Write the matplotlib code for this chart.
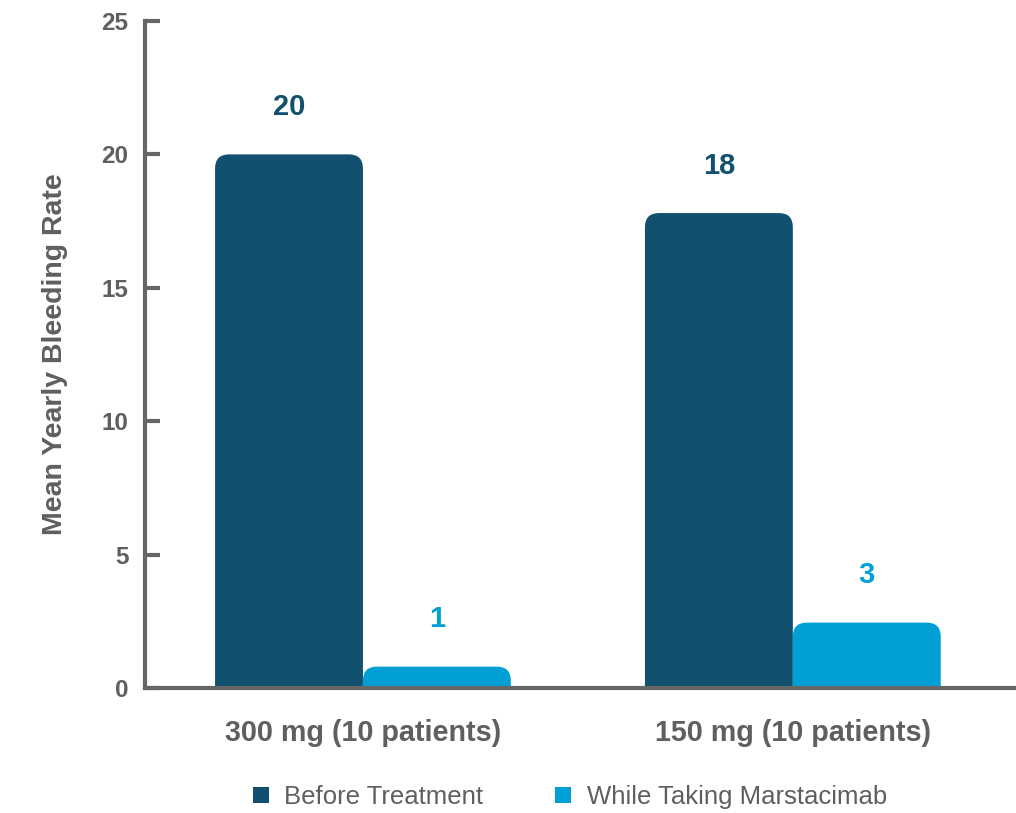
import matplotlib
matplotlib.use("Agg")
import matplotlib.pyplot as plt
from matplotlib.patches import FancyBboxPatch, Patch

plt.rcParams['font.family'] = ['Liberation Sans', 'DejaVu Sans']

groups = ['300 mg (10 patients)', '150 mg (10 patients)']
series_names = ['Before Treatment', 'While Taking Marstacimab']
before = [20, 17.8]
during = [0.8, 2.45]
before_labels = ['20', '18']
during_labels = ['1', '3']

DARK = '#12506f'
LIGHT = '#00a0d6'
GREY = '#5f5f5f'
AXIS = '#666666'

fig = plt.figure(figsize=(10.16, 8.13), dpi=100)
ax = fig.add_axes([0.1427, 0.1538, 0.856, 0.8204])

x = [0, 1]
w = 0.344
bars_a = ax.bar([i - w / 2 for i in x], before, w, color=DARK)
bars_b = ax.bar([i + w / 2 for i in x], during, w, color=LIGHT)

ax.set_xlim(-0.507, 1.516)
ax.set_ylim(0, 25)

# swap the plain bars for ones with rounded top corners
fig.canvas.draw()
p0 = ax.transData.transform((0, 0))
p1 = ax.transData.transform((1, 1))
px_x = p1[0] - p0[0]
px_y = p1[1] - p0[1]
r = 14 / px_x
for b in list(bars_a) + list(bars_b):
    b.set_visible(False)
    ext = 2.0
    patch = FancyBboxPatch((b.get_x(), -ext), b.get_width(), b.get_height() + ext,
                           boxstyle=f"round,pad=0,rounding_size={r}",
                           mutation_aspect=px_x / px_y,
                           facecolor=b.get_facecolor(), edgecolor='none',
                           clip_on=True, zorder=2)
    ax.add_patch(patch)

for bars, labels, col in [(bars_a, before_labels, DARK), (bars_b, during_labels, LIGHT)]:
    for b, lab in zip(bars, labels):
        ax.annotate(lab, (b.get_x() + b.get_width() / 2, b.get_height()),
                    xytext=(0, 34), textcoords='offset points',
                    ha='center', va='center', fontsize=21, fontweight='bold', color=col)

for s in ['top', 'right']:
    ax.spines[s].set_visible(False)
ax.spines['left'].set_color(AXIS)
ax.spines['left'].set_linewidth(3)
ax.spines['bottom'].set_color(AXIS)
ax.spines['bottom'].set_linewidth(3)
ax.spines['bottom'].set_zorder(3)

ax.set_yticks([0, 5, 10, 15, 20, 25])
ax.tick_params(axis='y', direction='in', length=11, width=3, color=AXIS,
               labelsize=17.5, labelcolor=GREY, pad=12)
for t in ax.get_yticklabels():
    t.set_fontweight('bold')

ax.set_xticks(x)
ax.set_xticklabels(groups, fontsize=20.7, fontweight='bold', color=GREY)
ax.tick_params(axis='x', length=0, pad=22)

ax.set_ylabel('Mean Yearly Bleeding Rate', fontsize=20.5, fontweight='bold', color=GREY)
ax.yaxis.set_label_coords(-0.0885, 0.5)

handles = [Patch(facecolor=DARK, edgecolor='none'), Patch(facecolor=LIGHT, edgecolor='none')]
leg = fig.legend(handles, series_names, loc='center', bbox_to_anchor=(570 / 1016, 1 - 797 / 813),
                 ncol=2, frameon=False, fontsize=18.5, handlelength=0.62, handleheight=0.62,
                 handletextpad=0.6, columnspacing=2.8)
for t in leg.get_texts():
    t.set_color(GREY)

fig.savefig('out.png', dpi=100)
